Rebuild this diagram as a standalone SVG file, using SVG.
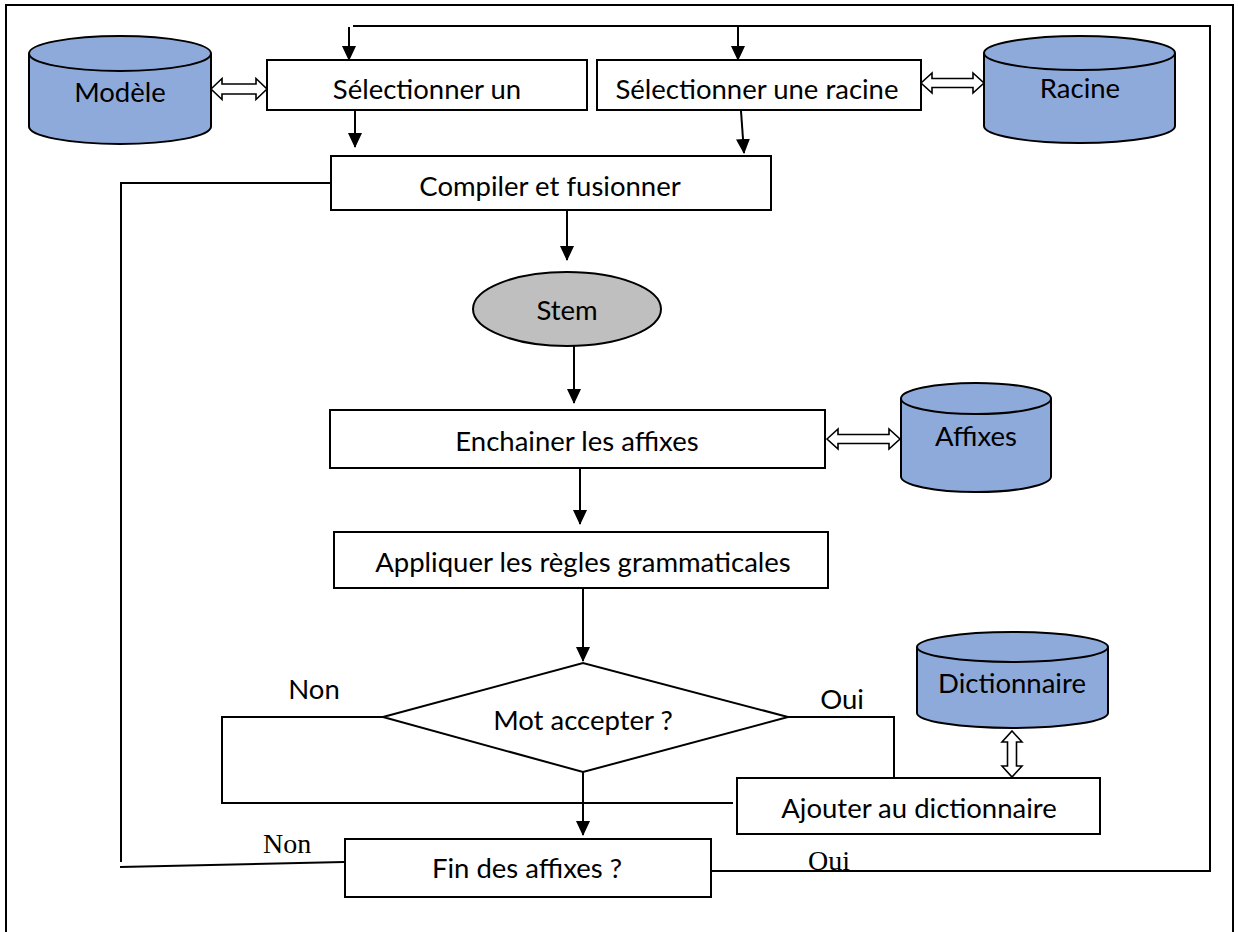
<svg xmlns="http://www.w3.org/2000/svg" width="1238" height="932" viewBox="0 0 1238 932">
  <defs>
    <style>
      .box { fill: #ffffff; stroke: #000000; stroke-width: 2; }
      .db { fill: #8eaadb; stroke: #000000; stroke-width: 2; }
      .stem { fill: #bfbfbf; stroke: #000000; stroke-width: 2; }
      .dbl { fill: #ffffff; stroke: #000000; stroke-width: 1.6; stroke-linejoin: miter; }
      .line { fill: none; stroke: #000000; stroke-width: 2; }
      .flow { fill: none; stroke: #000000; stroke-width: 2; marker-end: url(#head); }
      .lbl { font-family: Lato, "Liberation Sans", sans-serif; font-size: 27.5px; fill: #000000; text-anchor: middle; }
      .serif { font-family: "Liberation Serif", serif; font-size: 28px; fill: #000000; }
    </style>
    <marker id="head" markerUnits="userSpaceOnUse" markerWidth="16" markerHeight="16" viewBox="0 0 16 16" refX="14" refY="7.5" orient="auto">
      <path d="M0,0.5 L15,7.5 L0,14.5 Z" fill="#000000"/>
    </marker>
  </defs>

  <!-- page frame -->
  <rect x="6" y="5" width="1227" height="940" fill="none" stroke="#000000" stroke-width="2"/>

  <!-- connectors -->
  <g id="connectors">
    <!-- return loop from "Fin des affixes ?" (Oui) back to the two selectors -->
    <polyline class="line" points="711,871 1210,871 1210,26 353,26"/>
    <line class="line" x1="709" y1="869" x2="709" y2="882"/>
    <line class="flow" x1="349" y1="27" x2="349" y2="60"/>
    <line class="flow" x1="738" y1="27" x2="738" y2="60"/>

    <!-- selectors into the compiler -->
    <line class="flow" x1="355" y1="110" x2="355" y2="147"/>
    <line class="flow" x1="741" y1="111" x2="744" y2="153"/>

    <!-- main chain -->
    <line class="flow" x1="567" y1="210" x2="567" y2="260"/>
    <line class="flow" x1="574" y1="346" x2="574" y2="403"/>
    <line class="flow" x1="580" y1="468" x2="580" y2="524"/>
    <line class="flow" x1="583" y1="588" x2="583" y2="661"/>
    <line class="flow" x1="583" y1="772" x2="583" y2="835"/>

    <!-- "Mot accepter ?" branches -->
    <polyline class="line" points="383,717 222,717 222,803 733,803"/>
    <polyline class="line" points="788,717 894,717 894,778"/>

    <!-- "Fin des affixes ?" Non branch back to the compiler -->
    <polyline class="line" points="331,183 121,183 121,862"/>
    <line class="line" x1="120" y1="867" x2="344" y2="862"/>

    <!-- two-way links to the stores -->
    <path class="dbl" d="M211,89 L222,78.5 L222,84 L256,84 L256,78.5 L267,89 L256,99.5 L256,94 L222,94 L222,99.5 Z"/>
    <path class="dbl" d="M921,83 L932,73 L932,78.5 L973,78.5 L973,73 L984,83 L973,93 L973,87.5 L932,87.5 L932,93 Z"/>
    <path class="dbl" d="M827,439 L838,429 L838,434.5 L889,434.5 L889,429 L900,439 L889,449 L889,443.5 L838,443.5 L838,449 Z"/>
    <path class="dbl" d="M1012,731 L1022,742 L1016.5,742 L1016.5,766 L1022,766 L1012,777 L1002,766 L1007.5,766 L1007.5,742 L1002,742 Z"/>
  </g>

  <!-- stores -->
  <g id="modele">
    <path class="db" d="M29,53.5 L29,126.5 A91,17.5 0 0 0 211,126.5 L211,53.5"/>
    <ellipse class="db" cx="120" cy="53.5" rx="91" ry="17.5"/>
    <text class="lbl" x="120" y="102">Modèle</text>
  </g>
  <g id="racine">
    <path class="db" d="M984,53 L984,126 A95.5,17 0 0 0 1175,126 L1175,53"/>
    <ellipse class="db" cx="1079.5" cy="53" rx="95.5" ry="17"/>
    <text class="lbl" x="1080" y="98">Racine</text>
  </g>
  <g id="affixes">
    <path class="db" d="M901,398.5 L901,476.5 A75,15.5 0 0 0 1051,476.5 L1051,398.5"/>
    <ellipse class="db" cx="976" cy="398.5" rx="75" ry="15.5"/>
    <text class="lbl" x="976" y="446">Affixes</text>
  </g>
  <g id="dictionnaire">
    <path class="db" d="M917,647 L917,713 A95.5,15 0 0 0 1108,713 L1108,647"/>
    <ellipse class="db" cx="1012.5" cy="647" rx="95.5" ry="15"/>
    <text class="lbl" x="1012" y="693">Dictionnaire</text>
  </g>

  <!-- process steps -->
  <g id="selectionner-un">
    <rect class="box" x="267" y="60" width="320" height="50"/>
    <text class="lbl" x="427" y="99">Sélectionner un</text>
  </g>
  <g id="selectionner-racine">
    <rect class="box" x="597" y="60" width="324" height="50"/>
    <text class="lbl" x="757" y="99">Sélectionner une racine</text>
  </g>
  <g id="compiler">
    <rect class="box" x="331" y="156" width="440" height="54"/>
    <text class="lbl" x="550" y="196">Compiler et fusionner</text>
  </g>
  <g id="stem">
    <ellipse class="stem" cx="567" cy="309" rx="94" ry="37"/>
    <text class="lbl" x="567" y="320">Stem</text>
  </g>
  <g id="enchainer">
    <rect class="box" x="330" y="410" width="495" height="58"/>
    <text class="lbl" x="577" y="451">Enchainer les affixes</text>
  </g>
  <g id="appliquer">
    <rect class="box" x="334" y="532" width="494" height="56"/>
    <text class="lbl" x="583" y="572">Appliquer les règles grammaticales</text>
  </g>
  <g id="mot-accepter">
    <polygon class="box" points="383,717 583,663 788,717 583,772"/>
    <text class="lbl" x="583" y="730">Mot accepter ?</text>
    <text class="lbl" x="314" y="699">Non</text>
    <text class="lbl" x="842" y="709">Oui</text>
  </g>
  <g id="ajouter">
    <rect class="box" x="737" y="778" width="363" height="56"/>
    <text class="lbl" x="919" y="818">Ajouter au dictionnaire</text>
  </g>
  <g id="fin-affixes">
    <rect class="box" x="345" y="839" width="366" height="58"/>
    <text class="lbl" x="527" y="878">Fin des affixes ?</text>
    <text class="serif" x="263" y="853">Non</text>
    <text class="serif" x="808" y="870">Oui</text>
  </g>
</svg>
